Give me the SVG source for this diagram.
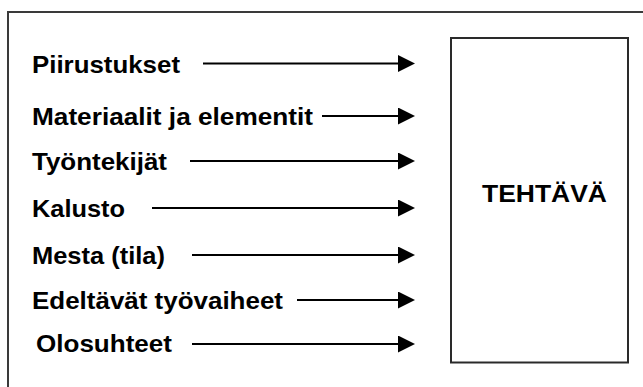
<svg xmlns="http://www.w3.org/2000/svg" width="643" height="387" viewBox="0 0 643 387">
  <style>
    .frame { fill: none; stroke: #3a3a3a; stroke-width: 2; }
    .box { fill: #ffffff; stroke: #2a2a2a; stroke-width: 2; }
    .lbl { font-family: "Liberation Sans", Arial, sans-serif; font-weight: bold; font-size: 24.5px; fill: #000000; }
    .conn { stroke: #000000; stroke-width: 2; fill: none; marker-end: url(#head); }
  </style>
  <defs>
    <marker id="head" markerUnits="userSpaceOnUse" markerWidth="17" markerHeight="17" viewBox="0 0 17 17" refX="0" refY="8.5" orient="auto">
      <path d="M0,0 L17,8.5 L0,17 Z" fill="#000000"/>
    </marker>
  </defs>

  <rect width="643" height="387" fill="#ffffff"/>

  <!-- outer frame (continues past the right and bottom edges) -->
  <rect class="frame" x="8" y="12" width="660" height="400"/>

  <!-- input labels -->
  <g id="piirustukset"><text class="lbl" x="32" y="73" textLength="148" lengthAdjust="spacingAndGlyphs">Piirustukset</text></g>
  <g id="materiaalit"><text class="lbl" x="32" y="124.5" textLength="281" lengthAdjust="spacingAndGlyphs">Materiaalit ja elementit</text></g>
  <g id="tyontekijat"><text class="lbl" x="32" y="169.5" textLength="135" lengthAdjust="spacingAndGlyphs">Työntekijät</text></g>
  <g id="kalusto"><text class="lbl" x="32" y="216.5" textLength="93" lengthAdjust="spacingAndGlyphs">Kalusto</text></g>
  <g id="mesta"><text class="lbl" x="32" y="263.5" textLength="133" lengthAdjust="spacingAndGlyphs">Mesta (tila)</text></g>
  <g id="edeltavat"><text class="lbl" x="32" y="308.5" textLength="251" lengthAdjust="spacingAndGlyphs">Edeltävät työvaiheet</text></g>
  <g id="olosuhteet"><text class="lbl" x="36" y="352" textLength="136" lengthAdjust="spacingAndGlyphs">Olosuhteet</text></g>

  <!-- task box -->
  <g id="tehtava">
    <rect class="box" x="451" y="38" width="177" height="324.5"/>
    <text class="lbl" x="482" y="202" textLength="125" lengthAdjust="spacingAndGlyphs">TEHTÄVÄ</text>
  </g>

  <!-- connectors -->
  <g id="connectors">
    <line class="conn" x1="203" y1="63.5" x2="398" y2="63.5"/>
    <line class="conn" x1="322" y1="116" x2="398" y2="116"/>
    <line class="conn" x1="190" y1="161" x2="398" y2="161"/>
    <line class="conn" x1="152" y1="208" x2="398" y2="208"/>
    <line class="conn" x1="192" y1="255" x2="398" y2="255"/>
    <line class="conn" x1="297" y1="300" x2="398" y2="300"/>
    <line class="conn" x1="192" y1="344" x2="398" y2="344"/>
  </g>
</svg>
